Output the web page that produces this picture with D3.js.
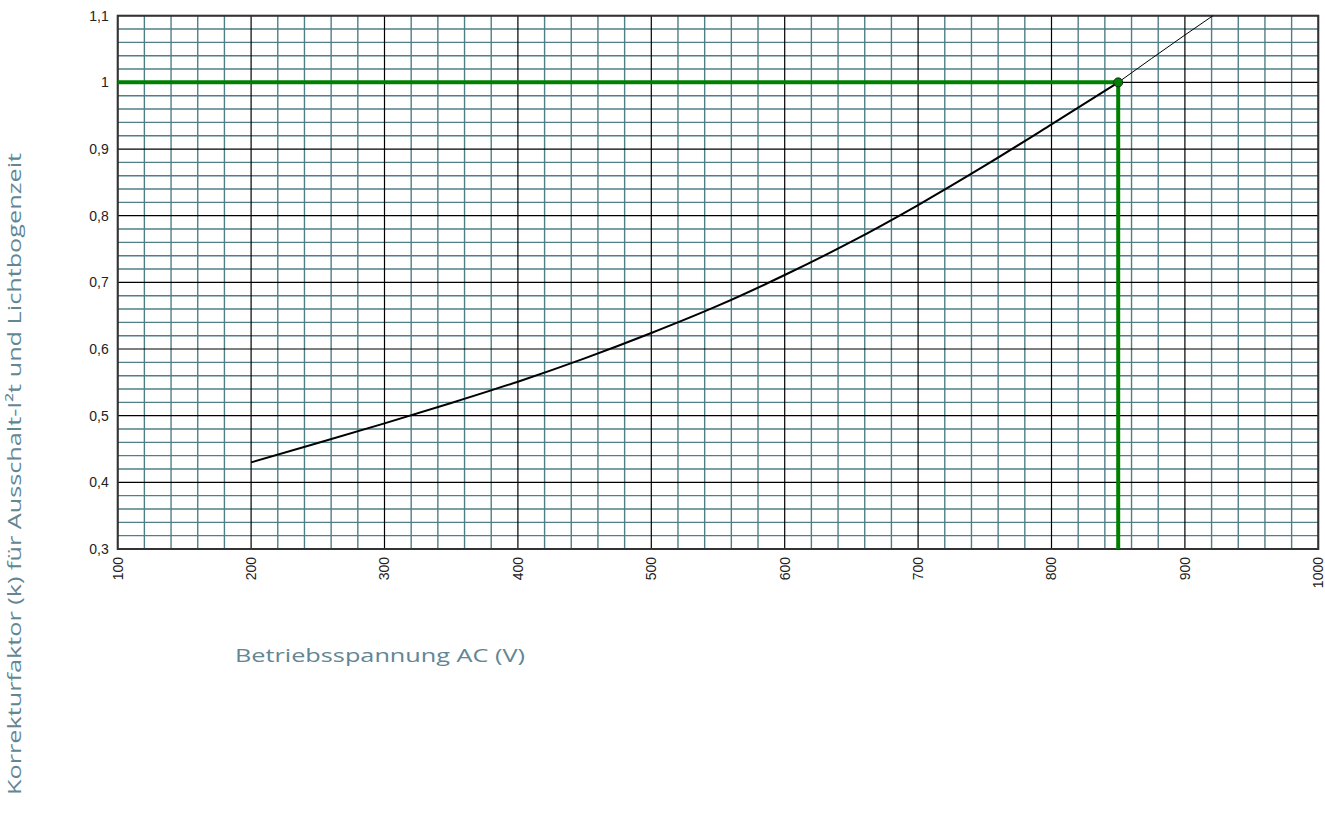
<!DOCTYPE html>
<html>
<head>
<meta charset="utf-8">
<script src="https://cdn.jsdelivr.net/npm/d3@7"></script>
<style>
html,body{margin:0;padding:0;background:#fff;}
svg{display:block;}
</style>
</head>
<body>
<svg id="chart" width="1325" height="814"></svg>
<script>
// ---- data ----
const xTickLabels = [100,200,300,400,500,600,700,800,900,1000];
const yTickLabels = ["0,3","0,4","0,5","0,6","0,7","0,8","0,9","1","1,1"];
const yTickValues = [0.3,0.4,0.5,0.6,0.7,0.8,0.9,1.0,1.1];
const curveVoltage = [200,250,300,350,400,450,500,550,600,650,700,750,800,850];
const curveK       = [0.430,0.459,0.4885,0.519,0.551,0.586,0.624,0.665,0.711,0.761,0.816,0.875,0.937,1.0];
const extVoltage = [850,900,921];
const extK       = [1.0,1.071,1.1];
const markerV = 850, markerK = 1.0;
const xTitle = "Betriebsspannung AC (V)";
const yTitle = "Korrekturfaktor (k) für Ausschalt-I²t und Lichtbogenzeit";

// ---- layout ----
const svg = d3.select("#chart");
const L = 117.7, R = 1318.3, T = 15.7, B = 549;
const x = d3.scaleLinear().domain([100,1000]).range([L,R]);
const y = d3.scaleLinear().domain([0.3,1.1]).range([B,T]);

const g = svg.append("g");

// minor grid
const minorX = d3.range(100,1000.1,20).filter(v => v%100 !== 0);
const minorY = d3.range(0,40).map(i => +(0.3 + i*0.02).toFixed(2)).filter(v => v<1.1 && Math.round(v*100)%10 !== 0);
g.selectAll(".mx").data(minorX).enter().append("line")
  .attr("x1",d=>x(d)).attr("x2",d=>x(d)).attr("y1",T).attr("y2",B)
  .attr("stroke","#4f7f86").attr("stroke-width",1.4);
g.selectAll(".my").data(minorY).enter().append("line")
  .attr("y1",d=>y(d)).attr("y2",d=>y(d)).attr("x1",L).attr("x2",R)
  .attr("stroke","#4f7f86").attr("stroke-width",1.4);

// major grid
g.selectAll(".Mx").data(xTickLabels).enter().append("line")
  .attr("x1",d=>x(d)).attr("x2",d=>x(d)).attr("y1",T).attr("y2",B)
  .attr("stroke","#000").attr("stroke-width",1.2);
g.selectAll(".My").data(yTickValues).enter().append("line")
  .attr("y1",d=>y(d)).attr("y2",d=>y(d)).attr("x1",L).attr("x2",R)
  .attr("stroke","#000").attr("stroke-width",1.2);

// frame
g.append("rect").attr("x",L).attr("y",T).attr("width",R-L).attr("height",B-T)
  .attr("fill","none").attr("stroke","#333").attr("stroke-width",2);

// green guide lines
g.append("line").attr("x1",x(100)).attr("x2",x(markerV)).attr("y1",y(markerK)).attr("y2",y(markerK))
  .attr("stroke","#008000").attr("stroke-width",4);
g.append("line").attr("x1",x(markerV)).attr("x2",x(markerV)).attr("y1",y(markerK)).attr("y2",y(0.3))
  .attr("stroke","#008000").attr("stroke-width",4);

// curves
const line = d3.line().x(d=>x(d[0])).y(d=>y(d[1])).curve(d3.curveMonotoneX);
g.append("path").datum(curveVoltage.map((v,i)=>[v,curveK[i]]))
  .attr("d",line).attr("fill","none").attr("stroke","#000").attr("stroke-width",2);
g.append("path").datum(extVoltage.map((v,i)=>[v,extK[i]]))
  .attr("d",line).attr("fill","none").attr("stroke","#000").attr("stroke-width",1);

// marker
g.append("circle").attr("cx",x(markerV)).attr("cy",y(markerK)).attr("r",4.5)
  .attr("fill","#008000").attr("stroke","#1b2e1b").attr("stroke-width",1);

// y tick labels
g.selectAll(".yl").data(yTickValues).enter().append("text")
  .attr("x",L-9).attr("y",d=>y(d)).attr("dy","0.35em")
  .attr("text-anchor","end")
  .attr("font-family","'Liberation Sans', Arial, sans-serif").attr("font-size",14).attr("fill","#222")
  .text((d,i)=>yTickLabels[i]);

// x tick labels (rotated)
g.selectAll(".xl").data(xTickLabels).enter().append("text")
  .attr("transform",d=>`translate(${x(d)},${B+8}) rotate(-90)`)
  .attr("dy","0.35em").attr("text-anchor","end")
  .attr("font-family","'Liberation Sans', Arial, sans-serif").attr("font-size",14).attr("fill","#222")
  .text(d=>d);

// axis titles
svg.append("text").attr("x",235).attr("y",662)
  .attr("font-family","'Open Sans', sans-serif").attr("font-size",18).attr("fill","#628694")
  .attr("textLength",290).attr("lengthAdjust","spacingAndGlyphs")
  .text(xTitle);
svg.append("text").attr("transform","translate(21,474) rotate(-90)")
  .attr("text-anchor","middle")
  .attr("font-family","'Open Sans', sans-serif").attr("font-size",18).attr("fill","#628694")
  .attr("textLength",642).attr("lengthAdjust","spacingAndGlyphs")
  .text(yTitle);
</script>
</body>
</html>
